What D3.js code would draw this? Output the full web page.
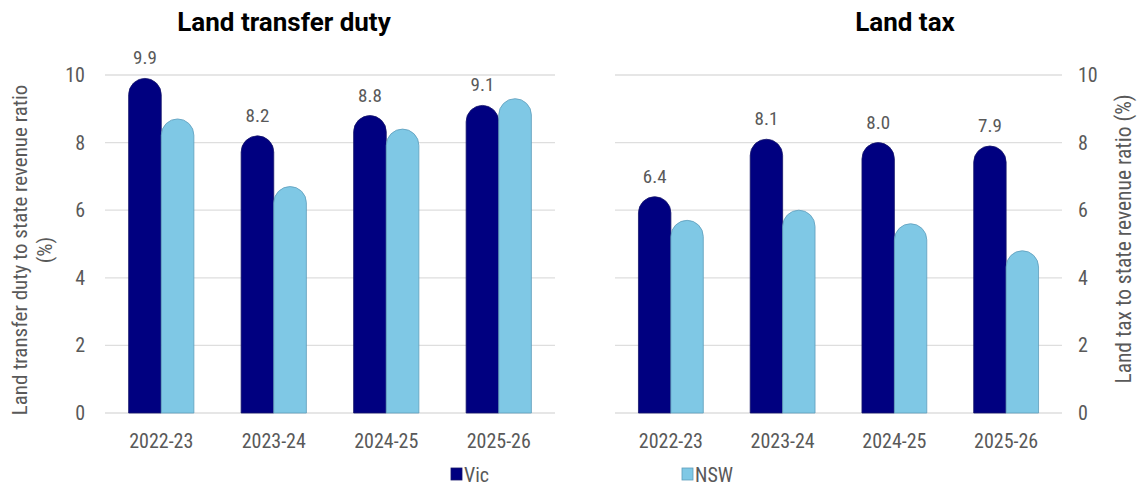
<!DOCTYPE html>
<html>
<head>
<meta charset="utf-8">
<script src="https://d3js.org/d3.v7.min.js"></script>
<style>
  body { margin: 0; background: #fff; }
  svg { display: block; }
</style>
</head>
<body>
<svg class="target" width="1140" height="486"></svg>
<script>

// values
years = ['2022-23', '2023-24', '2024-25', '2025-26']
series = ['Vic', 'NSW']
dutyVic = [9.9, 8.2, 8.8, 9.1]
dutyNsw = [8.7, 6.7, 8.4, 9.3]
taxVic = [6.4, 8.1, 8.0, 7.9]
taxNsw = [5.7, 6.0, 5.6, 4.8]
yTicks = [0, 2, 4, 6, 8, 10]

colors = { Vic: '#000080', NSW: '#7fc8e5' }
strokes = { Vic: '#14146a', NSW: '#5e9dbb' }

condensed = "'Roboto Condensed', 'Liberation Sans Narrow', 'Arial Narrow', Roboto, sans-serif"
grey = '#595959'

const svg = d3.select('.target')

y = d3.scaleLinear()
    .domain([0, 10])
    .range([413, 75])

// pill shaped bar: flat bottom, round top
pill = function(x0, w, yTop, yBase) {
  const r = w / 2
  return `M${x0},${yBase}V${yTop + r}A${r},${r} 0 0 1 ${x0 + w},${yTop + r}V${yBase}Z`
}

drawPanel = function(opt) {

  const x = d3.scaleBand()
      .domain(years)
      .range(opt.range)
      .paddingInner(0.42)
      .paddingOuter(0.21)

  const xs = d3.scaleBand()
      .domain(series)
      .range([0, x.bandwidth()])

  const g = svg.append('g')

  // gridlines
  g.selectAll('line.grid')
    .data(yTicks)
    .join('line')
      .attr('class', 'grid')
      .attr('x1', opt.range[0])
      .attr('x2', opt.range[1])
      .attr('y1', d => y(d))
      .attr('y2', d => y(d))
      .attr('stroke', '#dedede')
      .attr('stroke-width', 1.3)

  // y tick labels
  g.selectAll('text.ytick')
    .data(yTicks)
    .join('text')
      .attr('class', 'ytick')
      .attr('x', opt.tickX)
      .attr('y', d => y(d))
      .attr('dy', '0.35em')
      .attr('text-anchor', opt.tickAnchor)
      .style('font-family', condensed)
      .style('font-size', '20px')
      .attr('fill', grey)
      .text(d => d)

  const rows = years.map((yr, i) => ({ year: yr, Vic: opt.vic[i], NSW: opt.nsw[i] }))

  const grp = g.selectAll('g.year')
    .data(rows)
    .join('g')
      .attr('class', 'year')
      .attr('transform', d => `translate(${ x(d.year) },0)`)

  grp.selectAll('path')
    .data(d => series.map(s => ({ key: s, value: d[s] })))
    .join('path')
      .attr('d', d => pill(xs(d.key), xs.bandwidth(), y(d.value), y(0)))
      .attr('fill', d => colors[d.key])
      .attr('stroke', d => strokes[d.key])
      .attr('stroke-width', 0.8)

  // labels over the Vic bar
  grp.append('text')
      .attr('x', xs('Vic') + xs.bandwidth() / 2)
      .attr('y', d => y(d.Vic) - 14)
      .attr('text-anchor', 'middle')
      .style('font-family', condensed)
      .style('font-size', '19px')
      .attr('fill', grey)
      .text(d => d3.format('.1f')(d.Vic))

  // x labels
  g.selectAll('text.xtick')
    .data(years)
    .join('text')
      .attr('class', 'xtick')
      .attr('x', d => x(d) + x.bandwidth() / 2)
      .attr('y', 448)
      .attr('text-anchor', 'middle')
      .style('font-family', condensed)
      .style('font-size', '20px')
      .attr('fill', grey)
      .text(d => d)

  // chart title
  svg.append('text')
      .attr('x', opt.titleX)
      .attr('y', 31)
      .attr('text-anchor', 'middle')
      .style('font-family', 'Roboto, sans-serif')
      .style('font-weight', 700)
      .style('font-size', '26px')
      .attr('fill', '#000')
      .text(opt.title)
}

drawPanel({ range: [105, 555], vic: dutyVic, nsw: dutyNsw, tickX: 85, tickAnchor: 'end',
            title: 'Land transfer duty', titleX: 284 })
drawPanel({ range: [615, 1062], vic: taxVic, nsw: taxNsw, tickX: 1078, tickAnchor: 'start',
            title: 'Land tax', titleX: 905 })

// axis titles
leftTitle = svg.append('text')
    .attr('transform', 'translate(0,250) rotate(-90)')
    .attr('text-anchor', 'middle')
    .style('font-family', condensed)
    .style('font-size', '21px')
    .attr('fill', grey)

leftTitle.selectAll('tspan')
  .data(['Land transfer duty to state revenue ratio', '(%)'])
  .join('tspan')
    .attr('x', 0)
    .attr('y', (d, i) => i ? 52 : 27)
    .text(d => d)

svg.append('text')
    .attr('transform', 'translate(1131,239) rotate(-90)')
    .attr('text-anchor', 'middle')
    .style('font-family', condensed)
    .style('font-size', '21.5px')
    .attr('fill', grey)
    .text('Land tax to state revenue ratio (%)')

// legend
legendPos = { Vic: 451, NSW: 682 }

legend = svg.selectAll('g.legend')
  .data(series)
  .join('g')
    .attr('class', 'legend')
    .attr('transform', d => `translate(${ legendPos[d] },468)`)

legend.append('rect')
    .attr('width', 11)
    .attr('height', 12)
    .attr('fill', d => colors[d])
    .attr('stroke', d => strokes[d])
    .attr('stroke-width', 0.8)

legend.append('text')
    .attr('x', 13)
    .attr('y', 13.5)
    .style('font-family', condensed)
    .style('font-size', '20px')
    .attr('fill', grey)
    .text(d => d)

</script>
</body>
</html>
